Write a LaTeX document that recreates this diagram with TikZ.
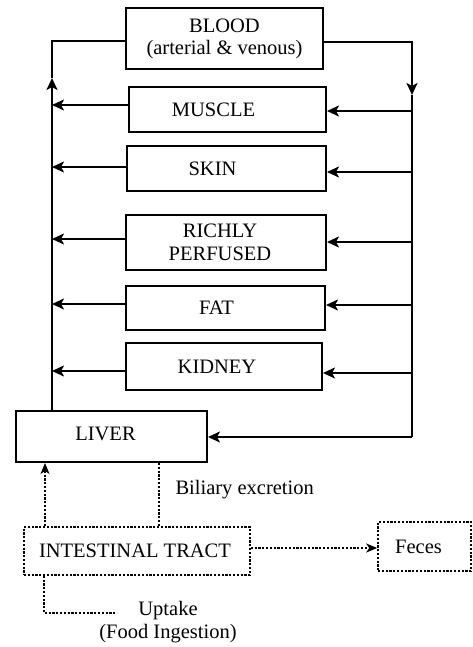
\documentclass[tikz,border=0pt]{standalone}
\usepackage{fontspec}
\setmainfont{Liberation Serif}
\usetikzlibrary{arrows.meta}
\begin{document}
\begin{tikzpicture}[x=1pt,y=-1pt,
  font=\fontsize{20.5}{23}\selectfont,
  box/.style={draw,line width=2pt,inner sep=0pt},
  dbox/.style={draw,line width=1.6pt,dash pattern=on 2.2pt off 1.6pt,inner sep=0pt},
  conn/.style={line width=2pt},
  arr/.style={line width=2pt,-{Stealth[length=12pt,width=11pt,inset=3pt]}},
  darr/.style={line width=1.6pt,dash pattern=on 2.2pt off 1.6pt,-{Stealth[length=11pt,width=9pt,inset=3pt]}},
  dline/.style={line width=1.6pt,dash pattern=on 2.2pt off 1.6pt}]
\useasboundingbox (0,0) rectangle (473,647);
% boxes
\node[box,minimum width=197pt,minimum height=61pt,align=center] (blood) at (224.5,38.5) {BLOOD\\[-1pt](arterial \& venous)};
\node[box,minimum width=197pt,minimum height=45pt,label={[xshift=-14pt]center:MUSCLE}] (muscle) at (227.5,109.5) {};
\node[box,minimum width=199pt,minimum height=45pt,label={[xshift=-14pt]center:SKIN}] (skin) at (226.5,168.5) {};
\node[box,minimum width=200pt,minimum height=55pt,label={[xshift=-6pt,align=center,font=\fontsize{20.5}{23}\selectfont]center:RICHLY\\PERFUSED}] (rich) at (226,242.5) {};
\node[box,minimum width=199pt,minimum height=44pt,label={[xshift=-9pt]center:FAT}] (fat) at (225.5,308) {};
\node[box,minimum width=196pt,minimum height=47pt,label={[xshift=-7pt]center:KIDNEY}] (kidney) at (224,366.5) {};
\node[box,minimum width=191pt,minimum height=51pt,label={[xshift=-6pt,yshift=3pt]center:LIVER}] (liver) at (111.5,436.5) {};
\node[dbox,minimum width=226pt,minimum height=48pt,label={[xshift=-2pt]center:INTESTINAL TRACT}] (gut) at (137,551) {};
\node[dbox,minimum width=93pt,minimum height=49pt,label={[xshift=-6pt]center:Feces}] (feces) at (424.5,546.5) {};
% labels
\node[anchor=west] (bil) at (172,490) {Biliary excretion};
\node[align=center] (uptake) at (168,622) {Uptake\\(Food Ingestion)};
% trunks
\coordinate (lt) at (52,41);
\coordinate (lup) at (52,78);
\coordinate (rt) at (412,42);
\coordinate (rdn) at (412,95);
\coordinate (rb) at (412,437);
\draw[conn] (blood.west |- lt) -- (lt) -- (lup);
\draw[arr] (liver.north -| lt) -- (lup);
\draw[arr] (blood.east |- rt) -- (rt) -- (rdn);
\draw[conn] (rdn) -- (rb);
% organ outflows
\foreach \n/\yl/\yr in {muscle/105/111, skin/167/172, rich/239/242, fat/304/305, kidney/371/373}{
  \draw[arr] (\n.west |- 0,\yl) -- (lt |- 0,\yl);
  \draw[arr] (rt |- 0,\yr) -- (\n.east |- 0,\yr);
}
\draw[arr] (rb) -- (liver.east |- rb);
% dotted connectors
\coordinate (gin) at (45,527);
\draw[darr] (gut.north -| gin) -- (liver.south -| gin);
\coordinate (bx) at (159,462);
\draw[dline] (liver.south -| bx) -- (gut.north -| bx);
\draw[darr] (gut.east |- 0,548) -- (feces.west |- 0,548);
\coordinate (uc) at (44,613);
\coordinate (ue) at (117,613);
\draw[dline] (gut.south -| uc) -- (uc) -- (ue);
\end{tikzpicture}
\end{document}
